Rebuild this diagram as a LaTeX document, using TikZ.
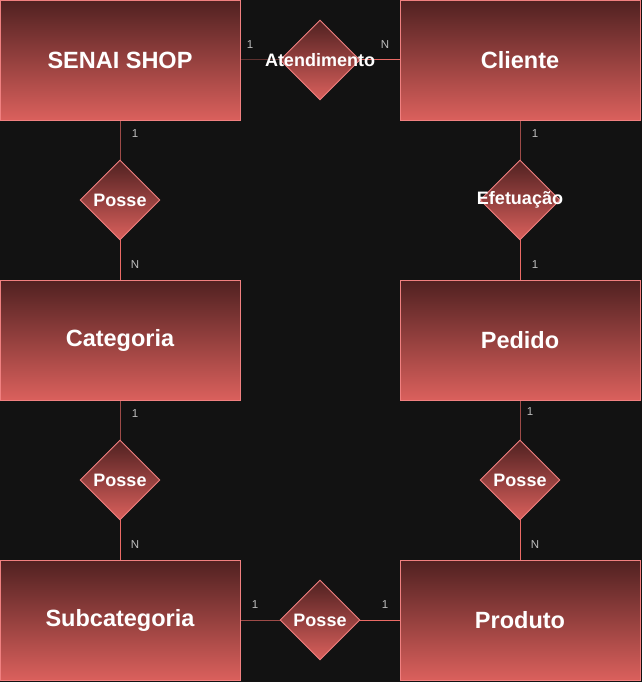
\documentclass[tikz,border=0pt]{standalone}
\usepackage{fontspec}
\setmainfont{Liberation Sans}
\usetikzlibrary{shapes.geometric}
\pgfdeclarelayer{bg}
\pgfsetlayers{bg,main}
\definecolor{bgc}{RGB}{18,18,18}
\definecolor{gtop}{RGB}{80,33,33}
\definecolor{gbot}{RGB}{218,96,92}
\definecolor{strk}{RGB}{240,128,128}
\definecolor{edgec}{RGB}{234,107,102}
\definecolor{lblc}{RGB}{190,190,190}
\tikzset{
  entity/.style={rectangle, draw=strk, line width=0.9pt, top color=gtop, bottom color=gbot,
    minimum width=240pt, minimum height=120pt, inner sep=0pt, text=white,
    font=\fontsize{23.5}{26}\selectfont\bfseries},
  rel/.style={diamond, draw=strk, line width=0.9pt, top color=gtop, bottom color=gbot,
    minimum width=80pt, minimum height=80pt, inner sep=0pt, aspect=1},
  reltext/.style={inner sep=0pt, text=white, font=\fontsize{18}{19}\selectfont\bfseries},
  card/.style={inner sep=0pt, text=lblc, font=\fontsize{11.5}{12}\selectfont},
  conn/.style={draw=edgec, line width=1pt}
}
\begin{document}
\begin{tikzpicture}[x=1pt,y=-1pt]
\begin{pgfonlayer}{bg}
\fill[bgc] (0,0) rectangle (642,682);
\end{pgfonlayer}
\useasboundingbox (0,0) rectangle (642,682);
% entities
\node[entity] (shop) at (120,60) {SENAI SHOP};
\node[entity] (cli) at (520,60) {Cliente};
\node[entity] (cat) at (120,340) {Categoria};
\node[entity] (ped) at (520,340) {Pedido};
\node[entity] (sub) at (120,620) {Subcategoria};
\node[entity] (prod) at (520,620) {Produto};
% relationships
\node[rel] (ra) at (320,60) {};
\node[rel] (rp1) at (120,200) {};
\node[rel] (re) at (520,200) {};
\node[rel] (rp2) at (120,480) {};
\node[rel] (rp3) at (520,480) {};
\node[rel] (rp4) at (320,620) {};
\node[reltext] (ta) at (ra) {Atendimento};
\node[reltext] (tp1) at (rp1) {Posse};
\node[reltext] (te) at (re) {Efetuação};
\node[reltext] (tp2) at (rp2) {Posse};
\node[reltext] (tp3) at (rp3) {Posse};
\node[reltext] (tp4) at (rp4) {Posse};
% connectors
\begin{pgfonlayer}{bg}
\draw[conn] (shop.east) -- (ra.center) -- (cli.west);
\draw[conn] (shop.south) -- (rp1.center) -- (cat.north);
\draw[conn] (cli.south) -- (re.center) -- (ped.north);
\draw[conn] (cat.south) -- (rp2.center) -- (sub.north);
\draw[conn] (ped.south) -- (rp3.center) -- (prod.north);
\draw[conn] (sub.east) -- (rp4.center) -- (prod.west);
\end{pgfonlayer}
% cardinalities
\node[card] (c1) at (250,45) {1};
\node[card] (c2) at (385,45) {N};
\node[card] (c3) at (135,134) {1};
\node[card] (c4) at (135,265) {N};
\node[card] (c5) at (535,134) {1};
\node[card] (c6) at (535,265) {1};
\node[card] (c7) at (135,414) {1};
\node[card] (c8) at (135,545) {N};
\node[card] (c9) at (530,412) {1};
\node[card] (c10) at (535,545) {N};
\node[card] (c11) at (255,605) {1};
\node[card] (c12) at (385,605) {1};
\end{tikzpicture}
\end{document}
